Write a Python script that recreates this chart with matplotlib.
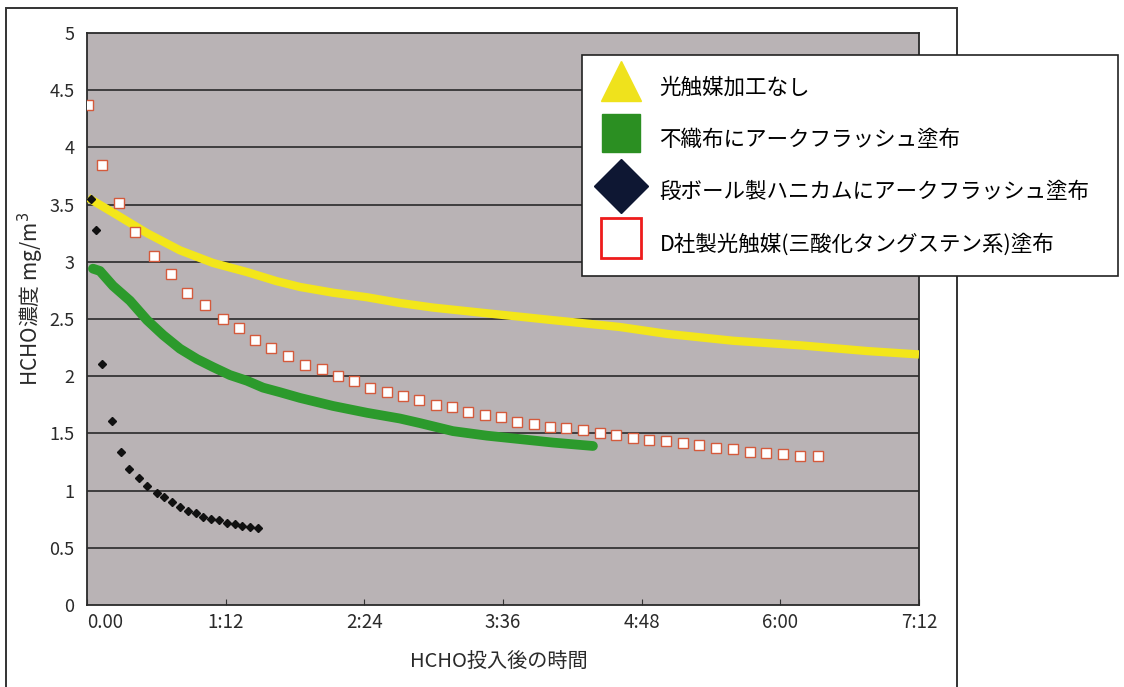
import numpy as np
import matplotlib
matplotlib.use("Agg")
import matplotlib.pyplot as plt
from matplotlib.lines import Line2D
from matplotlib.patches import Rectangle

plt.rcParams['font.family'] = ['Noto Sans CJK JP', 'DejaVu Sans']

# 時間は分単位 (x軸 0〜7:12 = 432分)
yellow_t = [0.5, 13.5, 31.2, 48.3, 65.4, 83.1, 98.6, 110.6, 127.7, 145.4,
            162.5, 179.6, 207.7, 241.9, 276.7, 301.1, 335.4, 370.2, 405.0, 432.0]
yellow_v = [3.56, 3.43, 3.25, 3.10, 2.99, 2.91, 2.83, 2.78, 2.73, 2.69,
            2.64, 2.60, 2.55, 2.49, 2.43, 2.37, 2.31, 2.27, 2.22, 2.19]

green_t = [3.1, 6.7, 13.5, 22.3, 31.2, 39.5, 48.3, 57.1, 65.4, 74.2, 83.1,
           91.4, 100.2, 110.6, 127.7, 145.4, 162.5, 172.9, 190.0, 207.7,
           224.8, 241.9, 262.7]
green_v = [2.94, 2.92, 2.79, 2.66, 2.49, 2.36, 2.24, 2.15, 2.08, 2.01, 1.96,
           1.90, 1.86, 1.81, 1.74, 1.68, 1.63, 1.59, 1.52, 1.48,
           1.45, 1.42, 1.39]

black_t = [2.1, 4.7, 7.8, 13.0, 17.7, 21.8, 27.0, 31.2, 36.3, 40.0, 44.1,
           48.3, 52.4, 56.6, 60.2, 64.4, 68.5, 72.7, 76.8, 80.5, 84.6, 88.8]
black_v = [3.55, 3.28, 2.11, 1.61, 1.34, 1.19, 1.11, 1.04, 0.98, 0.94, 0.90,
           0.86, 0.82, 0.80, 0.77, 0.75, 0.74, 0.72, 0.71, 0.69, 0.68, 0.67]

red_t = [0.5, 7.8, 16.6, 24.9, 34.8, 43.6, 51.9, 61.3, 70.6, 78.9, 87.2,
         95.5, 104.4, 113.2, 122.0, 130.3, 138.6, 146.9, 155.8, 164.1, 172.4,
         181.2, 189.5, 197.8, 206.6, 215.0, 223.3, 232.1, 240.4, 248.7, 257.5,
         266.4, 274.7, 283.5, 291.8, 300.6, 309.4, 317.7, 326.6, 335.4, 344.2,
         352.5, 361.4, 370.2, 379.5]
red_v = [4.37, 3.85, 3.51, 3.26, 3.05, 2.89, 2.73, 2.62, 2.50, 2.42, 2.32,
         2.25, 2.18, 2.10, 2.06, 2.00, 1.96, 1.90, 1.86, 1.83, 1.79,
         1.75, 1.73, 1.69, 1.66, 1.64, 1.60, 1.58, 1.56, 1.55, 1.53,
         1.50, 1.49, 1.46, 1.44, 1.43, 1.42, 1.40, 1.37, 1.36, 1.34,
         1.33, 1.32, 1.30, 1.30]

labels = ['光触媒加工なし', '不織布にアークフラッシュ塗布',
          '段ボール製ハニカムにアークフラッシュ塗布',
          'D社製光触媒(三酸化タングステン系)塗布']

x_ticks = [0, 72, 144, 216, 288, 360, 432]
x_labels = ['0.00', '1:12', '2:24', '3:36', '4:48', '6:00', '7:12']
y_ticks = [0, 0.5, 1, 1.5, 2, 2.5, 3, 3.5, 4, 4.5, 5]
y_labels = ['0', '0.5', '1', '1.5', '2', '2.5', '3', '3.5', '4', '4.5', '5']

fig = plt.figure(figsize=(11.24, 6.87), dpi=100)
ax = fig.add_axes([87/1124, 1 - 605/687, 832/1124, 572/687])
ax.set_facecolor('#b9b3b5')

ax.set_xlim(0, 432)
ax.set_ylim(0, 5)
for y in y_ticks[1:-1]:
    ax.axhline(y, color='#2a2a2a', lw=1.2, zorder=1)

ax.plot(yellow_t, yellow_v, color='#f3e61a', lw=6, solid_capstyle='butt', zorder=3)
ax.plot(green_t, green_v, color='#2c9a2c', lw=7, solid_capstyle='round', zorder=3)
ax.plot(red_t, red_v, ls='none', marker='s', ms=6.5, mfc='white',
        mec='#d45a3c', mew=1, zorder=4)
ax.plot(black_t, black_v, ls='none', marker='D', ms=4, color='#111111', zorder=5)

ax.set_xticks(x_ticks)
ax.set_xticklabels(x_labels, fontsize=13.5, color='#2a2a2a')
ax.get_xticklabels()[0].set_ha('left')
ax.set_yticks(y_ticks)
ax.set_yticklabels(y_labels, fontsize=13, color='#2a2a2a')
ax.tick_params(axis='x', direction='in', length=4, pad=5, color='#333333')
ax.tick_params(axis='y', length=0, pad=9)
for s in ax.spines.values():
    s.set_color('#2a2a2a')
    s.set_linewidth(1.3)

ax.set_xlabel('HCHO投入後の時間', fontsize=14.5, color='#2a2a2a')
ax.xaxis.set_label_coords(0.495, -0.08)
ax.set_ylabel('HCHO濃度 mg/m$^3$', fontsize=15, color='#2a2a2a')
ax.yaxis.set_label_coords(-0.049, 0.535)

# 外枠
fig.add_artist(Rectangle((6/1124, -0.02), 951/1124, 1 - 8/687 + 0.02,
                         transform=fig.transFigure, fill=False,
                         ec='#333333', lw=1.4, zorder=1))

handles = [
    Line2D([], [], ls='none', marker='^', ms=29, color='#efe21c'),
    Line2D([], [], ls='none', marker='s', ms=27, color='#2b8f22'),
    Line2D([], [], ls='none', marker='D', ms=28, color='#0e1733'),
    Line2D([], [], ls='none', marker='s', ms=29, mfc='white', mec='#ee1c1c', mew=2),
]
leg = fig.legend(handles, labels, loc='upper left',
                 bbox_to_anchor=(582/1124, 1 - 278/687, 536/1124, 223/687),
                 bbox_transform=fig.transFigure, mode='expand',
                 borderaxespad=0, fontsize=15.5, frameon=True, fancybox=False,
                 framealpha=1, edgecolor='#222222', handlelength=2.4,
                 handleheight=2.3, labelspacing=0.7, handletextpad=0.6,
                 borderpad=0.6)
leg.get_frame().set_linewidth(1.2)

fig.savefig('out.png', dpi=100)
